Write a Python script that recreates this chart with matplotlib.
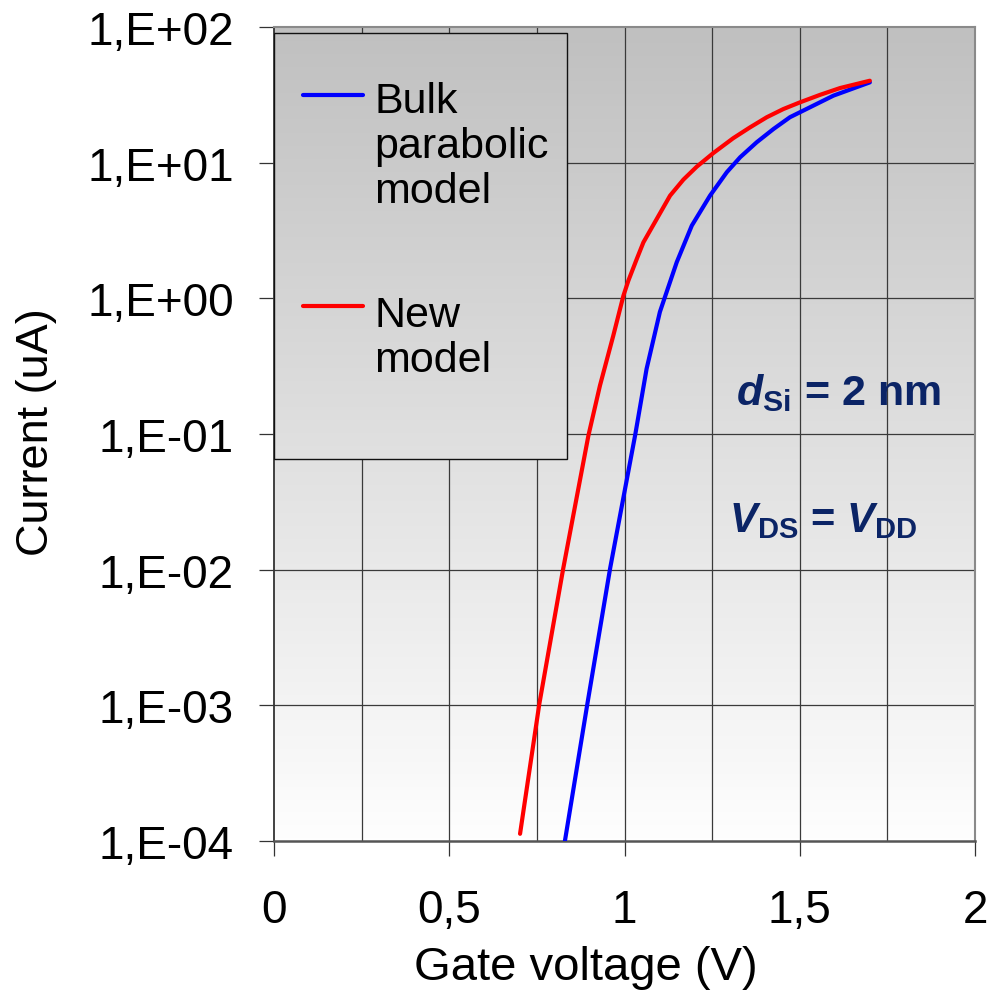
import numpy as np
import matplotlib
matplotlib.use("Agg")
import matplotlib.pyplot as plt
from matplotlib.patches import Rectangle
from matplotlib.lines import Line2D

plt.rcParams['font.family'] = ['Liberation Sans', 'DejaVu Sans']
plt.rcParams['mathtext.fontset'] = 'custom'
plt.rcParams['mathtext.rm'] = 'Liberation Sans'
plt.rcParams['mathtext.it'] = 'Liberation Sans:italic'
plt.rcParams['mathtext.bf'] = 'Liberation Sans:bold'
plt.rcParams['mathtext.bfit'] = 'Liberation Sans:italic:bold'

# ---- data (gate voltage in V, log10 of current in uA) ----
bulk_vg = [0.830, 0.894, 0.959, 1.031, 1.063, 1.101, 1.120, 1.149, 1.192,
           1.244, 1.292, 1.330, 1.377, 1.425, 1.472, 1.529, 1.596, 1.700]
bulk_logI = [-4.00, -2.99, -1.99, -1.00, -0.52, -0.10, 0.045, 0.266, 0.536,
             0.757, 0.930, 1.040, 1.150, 1.248, 1.335, 1.408, 1.494, 1.592]

new_vg = [0.702, 0.757, 0.825, 0.897, 0.930, 0.968, 0.997, 1.011, 1.035, 1.054,
          1.092, 1.130, 1.168, 1.206, 1.253, 1.310, 1.358, 1.406, 1.453, 1.501,
          1.558, 1.615, 1.700]
new_logI = [-3.947, -2.989, -1.994, -1.012, -0.643, -0.275, 0.020, 0.130, 0.290, 0.413,
            0.585, 0.757, 0.875, 0.970, 1.070, 1.180, 1.260, 1.335, 1.395, 1.445,
            1.500, 1.550, 1.604]

series_labels = ["Bulk\nparabolic\nmodel", "New\nmodel"]
x_ticks = [0, 0.5, 1, 1.5, 2]
x_ticklabels = ["0", "0,5", "1", "1,5", "2"]
y_ticks = [1e-4, 1e-3, 1e-2, 1e-1, 1e0, 1e1, 1e2]
y_ticklabels = ["1,E-04", "1,E-03", "1,E-02", "1,E-01", "1,E+00", "1,E+01", "1,E+02"]

W, H = 992, 995
fig = plt.figure(figsize=(W / 100, H / 100), dpi=100)

L, R, T, B = 274, 975, 28, 842
pos = [L / W, 1 - B / H, (R - L) / W, (B - T) / H]

# background gradient axes
bg = fig.add_axes(pos, zorder=0)
top_c, bot_c = 192 / 255, 254 / 255
vals = np.linspace(bot_c, top_c, 256).reshape(-1, 1)
img = np.dstack([vals, vals, vals])
bg.imshow(img, extent=[0, 1, 0, 1], aspect='auto', origin='lower')
bg.set_xlim(0, 1)
bg.set_ylim(0, 1)
bg.axis('off')

ax = fig.add_axes(pos, zorder=1)
ax.patch.set_alpha(0)
ax.set_yscale('log')
ax.set_xlim(0, 2)
ax.set_ylim(1e-4, 1e2)

# grid
for gx in np.arange(0.25, 2.0, 0.25):
    ax.axvline(gx, color='#3a3a3a', lw=0.9, zorder=1)
for gy in y_ticks[1:-1]:
    ax.axhline(gy, color='#3a3a3a', lw=0.9, zorder=1)

ax.plot(bulk_vg, 10 ** np.array(bulk_logI), color='#0000ff', lw=3.0, zorder=3,
        solid_capstyle='round', solid_joinstyle='round')
ax.plot(new_vg, 10 ** np.array(new_logI), color='#ff0000', lw=3.0, zorder=3,
        solid_capstyle='round', solid_joinstyle='round')

ax.set_xticks(x_ticks)
ax.set_xticklabels(x_ticklabels)
ax.set_yticks(y_ticks)
ax.set_yticklabels(y_ticklabels)
ax.minorticks_off()
ax.tick_params(axis='both', direction='out', length=11, width=0.9, color='#333333',
               labelsize=33)
ax.tick_params(axis='y', pad=18)
ax.tick_params(axis='x', pad=23)

for s in ['top', 'right']:
    ax.spines[s].set_color('#8a8a8a')
    ax.spines[s].set_linewidth(1.5)
ax.spines['left'].set_color('#333333')
ax.spines['left'].set_linewidth(1.3)
ax.spines['bottom'].set_color('#555555')
ax.spines['bottom'].set_linewidth(1.8)

# legend box (gradient, opaque)
lx0, lx1 = 0.0, (567 - L) / (R - L)
ly0, ly1 = 1 - (460 - T) / (B - T), 1 - (34 - T) / (B - T)
c_top = top_c + (bot_c - top_c) * (1 - ly1)
c_bot = top_c + (bot_c - top_c) * (1 - ly0)
lv = np.linspace(c_bot, c_top, 256).reshape(-1, 1)
limg = np.dstack([lv, lv, lv])
ax.imshow(limg, extent=[lx0, lx1, ly0, ly1], transform=ax.transAxes,
          aspect='auto', origin='lower', zorder=4)
ax.add_patch(Rectangle((lx0, ly0), lx1 - lx0, ly1 - ly0, transform=ax.transAxes,
                       facecolor='none', edgecolor='#111111', lw=1.0, zorder=5))
ax.set_xlim(0, 2)
ax.set_ylim(1e-4, 1e2)

def ax_x(px):
    return (px - L) / (R - L)

def ax_y(py):
    return 1 - (py - T) / (B - T)

for col, ly_px, lab, ty_px in [('#0000ff', 96, series_labels[0], 113),
                                ('#ff0000', 307, series_labels[1], 327)]:
    ax.add_line(Line2D([ax_x(303), ax_x(363)], [ax_y(ly_px), ax_y(ly_px)],
                       transform=ax.transAxes, color=col, lw=3.0, zorder=6,
                       solid_capstyle='round'))
    lines = lab.split("\n")
    for i, ln in enumerate(lines):
        ax.text(ax_x(374), ax_y(ty_px + 45 * i), ln, transform=ax.transAxes,
                fontsize=31, va='baseline', ha='left', color='black', zorder=6)

navy = '#0b2466'
ax.text(ax_x(736), ax_y(405), r'$\mathbfit{d}_{\mathbf{Si}}$' + ' = 2 nm',
        transform=ax.transAxes, fontsize=31, fontweight='bold', color=navy,
        va='baseline', ha='left', zorder=6)
ax.text(ax_x(729), ax_y(532), r'$\mathbfit{V}_{\mathbf{DS}}$' + ' = ' +
        r'$\mathbfit{V}_{\mathbf{DD}}$',
        transform=ax.transAxes, fontsize=30, fontweight='bold', color=navy,
        va='baseline', ha='left', zorder=6)

fig.text(586 / W, 1 - 968 / H, "Gate voltage (V)", fontsize=34, ha='center',
         va='center')
fig.text(37 / W, 1 - 432 / H, "Current (uA)", fontsize=32.5, ha='center',
         va='center', rotation=90)

fig.savefig("out.png", dpi=100)
